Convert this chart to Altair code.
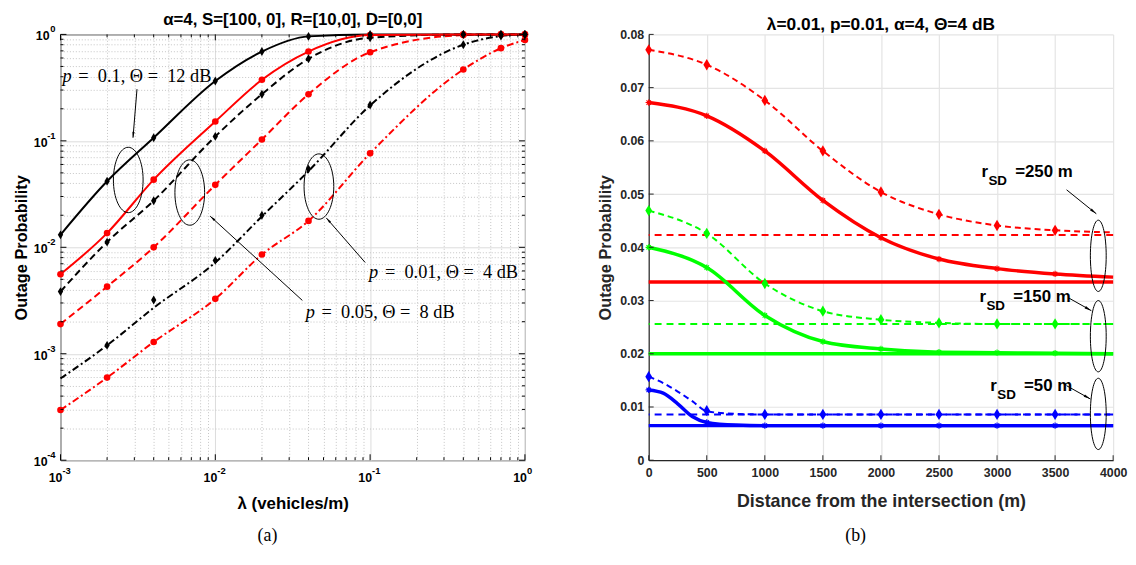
import math
import altair as alt
import pandas as pd

FONT = "Liberation Sans"
SERIF = "Liberation Serif"
W, H = 469, 430

# ---------------- panel (a) data ----------------
lam = [0.001, 0.002, 0.004, 0.01, 0.02, 0.04, 0.1, 0.4, 0.7, 1.0]
a_blk_solid = [0.0131, 0.0417, 0.107, 0.365, 0.69, 0.958, 0.998, 1.0, 1.0, 1.0]
a_red_solid = [0.00558, 0.0136, 0.0432, 0.152, 0.375, 0.69, 0.985, 1.0, 1.0, 1.0]
a_blk_dash = [0.00384, 0.0112, 0.0274, 0.110, 0.274, 0.59, 0.93, 1.0, 1.0, 1.0]
a_red_dash = [0.0019, 0.00427, 0.0100, 0.0386, 0.103, 0.274, 0.68, 0.985, 1.0, 1.0]
a_blk_dashdot = [0.000585, 0.00120, 0.0027, 0.0072, 0.0195, 0.052, 0.215, 0.80, 0.965, 1.0]
a_red_dashdot = [0.000296, 0.000597, 0.00129, 0.00328, 0.00855, 0.0177, 0.0763, 0.468, 0.742, 0.887]
a_blk_dashdot_mk = [None, 0.00120, 0.0032, 0.00753, 0.020, 0.0543, 0.217, 0.80, 0.965, 1.0]

a_x_major = [0.001, 0.01, 0.1, 1.0]
a_x_exp = ["-3", "-2", "-1", "0"]
a_x_minor = [m * d for d in [0.001, 0.01, 0.1] for m in range(2, 10)]
a_y_major = [0.0001, 0.001, 0.01, 0.1, 1.0]
a_y_exp = ["-4", "-3", "-2", "-1", "0"]
a_y_minor = [m * d for d in [0.0001, 0.001, 0.01, 0.1] for m in range(2, 10)]

# annotations (a)
SP = "\u2005"
a_txt = [f"={SP} 0.1, Θ ={SP} 12 dB", f"={SP} 0.01, Θ ={SP} 4 dB", f"={SP} 0.05, Θ ={SP} 8 dB"]
a_txt_x = [0.00103, 0.0985, 0.0384]
a_txt_y = [0.407, 0.00585, 0.00248]
a_ell_x = [0.00274, 0.00684, 0.0467]
a_ell_y = [0.0429, 0.0327, 0.0372]
a_arr_x1 = [0.00312, 0.0365, 0.0929]
a_arr_y1 = [0.306, 0.00317, 0.0072]
a_arr_x2 = [0.00294, 0.00927, 0.0521]
a_arr_y2 = [0.107, 0.0196, 0.0189]

# ---------------- panel (b) data ----------------
dist = [0, 500, 1000, 1500, 2000, 2500, 3000, 3500, 4000]
b_red_dash = [0.0771, 0.0743, 0.0676, 0.0581, 0.0504, 0.0462, 0.0441, 0.0432, 0.0428]
b_red_solid = [0.0672, 0.0647, 0.0581, 0.0488, 0.0418, 0.0378, 0.0360, 0.0350, 0.0344]
b_grn_dash = [0.0469, 0.0426, 0.0332, 0.0280, 0.0264, 0.0258, 0.0256, 0.0256, 0.0256]
b_grn_solid = [0.0400, 0.0362, 0.0272, 0.0223, 0.0209, 0.0203, 0.0202, 0.0201, 0.0200]
dist_blue = [0, 125, 250, 375, 500, 750, 1000, 1500, 2000, 2500, 3000, 3500, 4000]
b_blu_dash = [0.0157, 0.0145, 0.0129, 0.0111, 0.0092, 0.0087, 0.0086, 0.0086, 0.0086, 0.0086, 0.0086, 0.0086, 0.0086]
b_blu_solid = [0.0132, 0.0126, 0.0106, 0.0082, 0.0071, 0.0066, 0.0065, 0.0065, 0.0065, 0.0065, 0.0065, 0.0065, 0.0065]
b_blu_dash_mk = [0.0157, 0.0093, 0.0086, 0.0086, 0.0086, 0.0086, 0.0086, 0.0086]
b_blu_solid_mk = [0.0132, 0.0071, 0.0065, 0.0065, 0.0065, 0.0065, 0.0065, 0.0065]
b_limit_dash = [0.0423, 0.0256, 0.0086]
b_limit_solid = [0.0335, 0.0200, 0.0065]
b_y_ticks = [0, 0.01, 0.02, 0.03, 0.04, 0.05, 0.06, 0.07, 0.08]
RED, GRN, BLU = "#ff0000", "#00ff00", "#0000ff"
b_limit_color = [RED, GRN, BLU]

b_lbl = ["=250 m", "=150 m", "=50 m"]
b_lbl_x = [2866, 2849, 2942]
b_lbl_y = [0.0541, 0.0307, 0.0140]
b_ell_x = [3872, 3872, 3872]
b_ell_y = [0.0384, 0.0233, 0.0087]
b_arr_x1 = [3599, 3616, 3599]
b_arr_y1 = [0.0508, 0.0305, 0.0140]
b_arr_x2 = [3855, 3812, 3804]
b_arr_y2 = [0.0463, 0.0281, 0.0115]

# ---------------- shapes ----------------
def ellipse_path(a):
    k = 0.5523
    return (f"M 0 -1 C {k*a:.4f} -1 {a:.4f} {-k:.4f} {a:.4f} 0 "
            f"C {a:.4f} {k:.4f} {k*a:.4f} 1 0 1 "
            f"C {-k*a:.4f} 1 {-a:.4f} {k:.4f} {-a:.4f} 0 "
            f"C {-a:.4f} {-k:.4f} {-k*a:.4f} -1 0 -1 Z")

ARROW = "M 0 0 L 0.38 2 L -0.38 2 Z"
DIAMOND = "M 0 -1 L 0.6 0 L 0 1 L -0.6 0 Z"
STAR = "M -1 0 L 1 0 M 0 -1 L 0 1 M -0.7 -0.7 L 0.7 0.7 M -0.7 0.7 L 0.7 -0.7"

def angle(px1, py1, px2, py2):
    return math.degrees(math.atan2(px2 - px1, -(py2 - py1))) % 360

# ---------------- panel (a) ----------------
minor_test = "abs(log(datum.value)/LN10 - round(log(datum.value)/LN10)) > 0.01"
grid_dash = {"condition": {"test": minor_test, "value": [1, 2]}, "value": []}
grid_col = {"condition": {"test": minor_test, "value": "#c4c4c4"}, "value": "#dcdcdc"}

ax_xa = alt.Axis(values=a_x_major + a_x_minor, grid=True, gridDash=grid_dash, gridColor=grid_col,
                 ticks=False, domain=False, labels=False,
                 titleFont=FONT, titleFontSize=17, titleFontWeight="bold", titleColor="black", titlePadding=36)
ax_ya = alt.Axis(values=a_y_major + a_y_minor, grid=True, gridDash=grid_dash, gridColor=grid_col,
                 ticks=False, domain=False, labels=False,
                 titleFont=FONT, titleFontSize=16.5, titleFontWeight="bold", titleColor="black", titlePadding=31)
XA = alt.X("x:Q", scale=alt.Scale(type="log", domain=[0.001, 1]), axis=ax_xa, title="λ (vehicles/m)")
YA = alt.Y("y:Q", scale=alt.Scale(type="log", domain=[0.0001, 1]), axis=ax_ya, title="Outage Probability")
XA2 = alt.X2("x2:Q")
YA2 = alt.Y2("y2:Q")

def a_px(x):
    return (math.log10(x) + 3) / 3 * W

def a_py(y):
    return -math.log10(y) / 4 * H

a_layers = []
def a_line(vals, color, dash=None):
    df = pd.DataFrame({"x": lam, "y": vals})
    kw = dict(color=color, strokeWidth=2, interpolate="monotone")
    if dash:
        kw["strokeDash"] = dash
    return alt.Chart(df).mark_line(**kw).encode(x=XA, y=YA)

a_layers += [
    a_line(a_red_dashdot, RED, [7, 3, 2, 3]),
    a_line(a_blk_dashdot, "black", [7, 3, 2, 3]),
    a_line(a_red_dash, RED, [7, 4]),
    a_line(a_blk_dash, "black", [7, 4]),
    a_line(a_blk_solid, "black"),
    a_line(a_red_solid, RED),
]
red_mk = pd.DataFrame({"x": lam * 3, "y": a_red_solid + a_red_dash + a_red_dashdot})
a_layers.append(alt.Chart(red_mk).mark_point(shape="circle", filled=True, size=45, color=RED, opacity=1)
                .encode(x=XA, y=YA))
blk_vals = a_blk_solid + a_blk_dash + a_blk_dashdot_mk
blk_mk = pd.DataFrame({"x": lam * 3, "y": blk_vals}).dropna()
a_layers.append(alt.Chart(blk_mk).mark_point(shape=DIAMOND, filled=True, size=80, color="black", opacity=1)
                .encode(x=XA, y=YA))

# inward ticks (a)
xt_maj = pd.DataFrame({"x": a_x_major})
xt_min = pd.DataFrame({"x": a_x_minor})
yt_maj = pd.DataFrame({"y": a_y_major})
yt_min = pd.DataFrame({"y": a_y_minor})
for df, ln in [(xt_maj, 6), (xt_min, 3)]:
    a_layers.append(alt.Chart(df).mark_rule(color="black", strokeWidth=1).encode(x=XA, y=alt.value(H), y2=alt.value(H - ln)))
    a_layers.append(alt.Chart(df).mark_rule(color="black", strokeWidth=1).encode(x=XA, y=alt.value(0), y2=alt.value(ln)))
for df, ln in [(yt_maj, 6), (yt_min, 3)]:
    a_layers.append(alt.Chart(df).mark_rule(color="black", strokeWidth=1).encode(y=YA, x=alt.value(0), x2=alt.value(ln)))
    a_layers.append(alt.Chart(df).mark_rule(color="black", strokeWidth=1).encode(y=YA, x=alt.value(W), x2=alt.value(W - ln)))

# tick labels "10" with superscript exponent (a)
xlab = pd.DataFrame({"x": a_x_major, "e": a_x_exp, "b": ["10"] * 4})
a_layers.append(alt.Chart(xlab).mark_text(font=FONT, fontSize=12.5, fontWeight="bold", align="right",
                                          baseline="middle", dx=2, color="black")
                .encode(x=XA, y=alt.value(H + 18), text="b:N"))
a_layers.append(alt.Chart(xlab).mark_text(font=FONT, fontSize=9.5, fontWeight="bold", align="left",
                                          baseline="middle", dx=2, color="black")
                .encode(x=XA, y=alt.value(H + 11), text="e:N"))
ylab = pd.DataFrame({"y": a_y_major, "e": a_y_exp, "b": ["10"] * 5})
ylab_neg = ylab[ylab.e != "0"]
ylab_zero = ylab[ylab.e == "0"]
for df, off in [(ylab_neg, -13), (ylab_zero, -11)]:
    a_layers.append(alt.Chart(df).mark_text(font=FONT, fontSize=12.5, fontWeight="bold", align="right",
                                            baseline="middle", dy=2, color="black")
                    .encode(y=YA, x=alt.value(off), text="b:N"))
a_layers.append(alt.Chart(ylab).mark_text(font=FONT, fontSize=9.5, fontWeight="bold", align="right",
                                          baseline="middle", dy=-5, color="black")
                .encode(y=YA, x=alt.value(-5), text="e:N"))

# annotations (a)
a_ell = pd.DataFrame({"x": a_ell_x, "y": a_ell_y})
a_layers.append(alt.Chart(a_ell).mark_point(shape=ellipse_path(0.4545), size=4356, filled=False,
                                            color="black", strokeWidth=1, opacity=1).encode(x=XA, y=YA))
a_arr = pd.DataFrame({"x": a_arr_x1, "y": a_arr_y1, "x2": a_arr_x2, "y2": a_arr_y2})
a_layers.append(alt.Chart(a_arr).mark_rule(color="black", strokeWidth=1).encode(x=XA, y=YA, x2=XA2, y2=YA2))
a_head = pd.DataFrame({"x": a_arr_x2, "y": a_arr_y2,
                       "ang": [angle(a_px(x1), a_py(y1), a_px(x2), a_py(y2))
                               for x1, y1, x2, y2 in zip(a_arr_x1, a_arr_y1, a_arr_x2, a_arr_y2)]})
a_layers.append(alt.Chart(a_head).mark_point(shape=ARROW, size=36, filled=True, color="black", opacity=1)
                .encode(x=XA, y=YA, angle=alt.Angle("ang:Q", scale=None)))
a_t = pd.DataFrame({"x": a_txt_x, "y": a_txt_y, "t": a_txt, "p": ["p"] * 3})
a_layers.append(alt.Chart(a_t).mark_text(font=SERIF, fontSize=18.5, fontStyle="italic", align="left",
                                         baseline="middle", color="black").encode(x=XA, y=YA, text="p:N"))
a_layers.append(alt.Chart(a_t).mark_text(font=SERIF, fontSize=18.5, align="left", baseline="middle",
                                         dx=16, color="black").encode(x=XA, y=YA, text="t:N"))
cap_a = pd.DataFrame({"t": ["(a)"]})
a_layers.append(alt.Chart(cap_a).mark_text(font=SERIF, fontSize=18, color="black", baseline="middle")
                .encode(x=alt.value(209), y=alt.value(H + 77), text="t:N"))

left = alt.layer(*a_layers).properties(
    width=W, height=H,
    view=alt.ViewBackground(stroke="black", strokeWidth=1),
    title=alt.Title("α=4,  S=[100, 0], R=[10,0], D=[0,0]", font=FONT, fontSize=17,
                    fontWeight="bold", color="black", offset=-5),
)

# ---------------- panel (b) ----------------
ax_xb = alt.Axis(values=dist, format="d", grid=True, gridColor="#e4e4e4", gridWidth=1.2, ticks=False,
                 domain=True, domainColor="#262626", domainWidth=1.2,
                 labelFont=FONT, labelFontSize=12.5, labelFontWeight="bold", labelColor="#262626",
                 labelPadding=6, labelFlush=False,
                 titleFont=FONT, titleFontSize=18, titleFontWeight="bold", titleColor="#262626", titlePadding=14)
ax_yb = alt.Axis(values=b_y_ticks, format=".2~f",
                 grid=True, gridColor="#e4e4e4", gridWidth=1.2, ticks=False,
                 domain=True, domainColor="#262626", domainWidth=1.2,
                 labelFont=FONT, labelFontSize=12.5, labelFontWeight="bold", labelColor="#262626",
                 labelPadding=5, labelFlush=False,
                 titleFont=FONT, titleFontSize=16.5, titleFontWeight="bold", titleColor="#262626", titlePadding=6)
XB = alt.X("x:Q", scale=alt.Scale(domain=[0, 4000]), axis=ax_xb, title="Distance from the intersection (m)")
YB = alt.Y("y:Q", scale=alt.Scale(domain=[0, 0.08]), axis=ax_yb, title="Outage Probability")

def b_px(x):
    return x / 4000 * W

def b_py(y):
    return (0.08 - y) / 0.08 * H

b_layers = []
lim_s = pd.DataFrame({"y": b_limit_solid, "c": b_limit_color})
lim_d = pd.DataFrame({"y": b_limit_dash, "c": b_limit_color})
b_layers.append(alt.Chart(lim_s).mark_rule(strokeWidth=3.5).encode(y=YB, color=alt.Color("c:N", scale=None)))
b_layers.append(alt.Chart(lim_d).mark_rule(strokeWidth=2, strokeDash=[7, 5]).encode(y=YB, color=alt.Color("c:N", scale=None)))

def b_line(xs, vals, color, dash=None):
    df = pd.DataFrame({"x": xs, "y": vals})
    kw = dict(color=color, interpolate="monotone")
    if dash:
        kw["strokeDash"] = dash
        kw["strokeWidth"] = 2
    else:
        kw["strokeWidth"] = 3.5
    return alt.Chart(df).mark_line(**kw).encode(x=XB, y=YB)

b_layers += [
    b_line(dist, b_red_dash, RED, [6, 4]),
    b_line(dist, b_red_solid, RED),
    b_line(dist, b_grn_dash, GRN, [6, 4]),
    b_line(dist, b_grn_solid, GRN),
    b_line(dist_blue, b_blu_dash, BLU, [6, 4]),
    b_line(dist_blue, b_blu_solid, BLU),
]
mk_x = dist[:-1]
dmk = pd.DataFrame({"x": mk_x * 3, "y": b_red_dash[:-1] + b_grn_dash[:-1] + b_blu_dash_mk,
                    "c": [RED] * 8 + [GRN] * 8 + [BLU] * 8})
smk = pd.DataFrame({"x": mk_x * 3, "y": b_red_solid[:-1] + b_grn_solid[:-1] + b_blu_solid_mk,
                    "c": [RED] * 8 + [GRN] * 8 + [BLU] * 8})
b_layers.append(alt.Chart(dmk).mark_point(shape=DIAMOND, filled=True, size=130, opacity=1)
                .encode(x=XB, y=YB, color=alt.Color("c:N", scale=None)))
b_layers.append(alt.Chart(smk).mark_point(shape=STAR, filled=False, size=40, strokeWidth=1.2, opacity=1)
                .encode(x=XB, y=YB, color=alt.Color("c:N", scale=None)))

xt_b = pd.DataFrame({"x": dist})
yt_b = pd.DataFrame({"y": b_y_ticks})
b_layers.append(alt.Chart(xt_b).mark_rule(color="#262626", strokeWidth=1).encode(x=XB, y=alt.value(H), y2=alt.value(H - 5)))
b_layers.append(alt.Chart(yt_b).mark_rule(color="#262626", strokeWidth=1).encode(y=YB, x=alt.value(0), x2=alt.value(5)))

b_ell = pd.DataFrame({"x": b_ell_x, "y": b_ell_y})
b_layers.append(alt.Chart(b_ell).mark_point(shape=ellipse_path(0.222), size=5184, filled=False,
                                            color="black", strokeWidth=1, opacity=1).encode(x=XB, y=YB))
b_arr = pd.DataFrame({"x": b_arr_x1, "y": b_arr_y1, "x2": b_arr_x2, "y2": b_arr_y2})
b_layers.append(alt.Chart(b_arr).mark_rule(color="black", strokeWidth=1).encode(x=XB, y=YB, x2=alt.X2("x2:Q"), y2=alt.Y2("y2:Q")))
b_head = pd.DataFrame({"x": b_arr_x2, "y": b_arr_y2,
                       "ang": [angle(b_px(x1), b_py(y1), b_px(x2), b_py(y2))
                               for x1, y1, x2, y2 in zip(b_arr_x1, b_arr_y1, b_arr_x2, b_arr_y2)]})
b_layers.append(alt.Chart(b_head).mark_point(shape=ARROW, size=49, filled=True, color="black", opacity=1)
                .encode(x=XB, y=YB, angle=alt.Angle("ang:Q", scale=None)))
b_t = pd.DataFrame({"x": b_lbl_x, "y": b_lbl_y, "t": b_lbl, "r": ["r"] * 3, "s": ["SD"] * 3})
b_layers.append(alt.Chart(b_t).mark_text(font=FONT, fontSize=17, fontWeight="bold", align="left",
                                         baseline="middle", color="black").encode(x=XB, y=YB, text="r:N"))
b_layers.append(alt.Chart(b_t).mark_text(font=FONT, fontSize=13.5, fontWeight="bold", align="left",
                                         baseline="middle", dx=7, dy=9, color="black").encode(x=XB, y=YB, text="s:N"))
b_layers.append(alt.Chart(b_t).mark_text(font=FONT, fontSize=17, fontWeight="bold", align="left",
                                         baseline="middle", dx=34, color="black").encode(x=XB, y=YB, text="t:N"))
cap_b = pd.DataFrame({"t": ["(b)"]})
b_layers.append(alt.Chart(cap_b).mark_text(font=SERIF, fontSize=18, color="black", baseline="middle")
                .encode(x=alt.value(209), y=alt.value(H + 77), text="t:N"))

right = alt.layer(*b_layers).properties(
    width=W, height=H,
    view=alt.ViewBackground(stroke="transparent"),
    title=alt.Title("λ=0.01, p=0.01, α=4, Θ=4 dB", font=FONT, fontSize=17.5,
                    fontWeight="bold", color="black", offset=-5),
)

chart = alt.hconcat(left, right, spacing=65).properties(
    padding={"left": 5, "top": 0, "right": 0, "bottom": 0},
    background="white",
)
chart.save("out.html", embed_options={"renderer": "svg", "actions": False})
